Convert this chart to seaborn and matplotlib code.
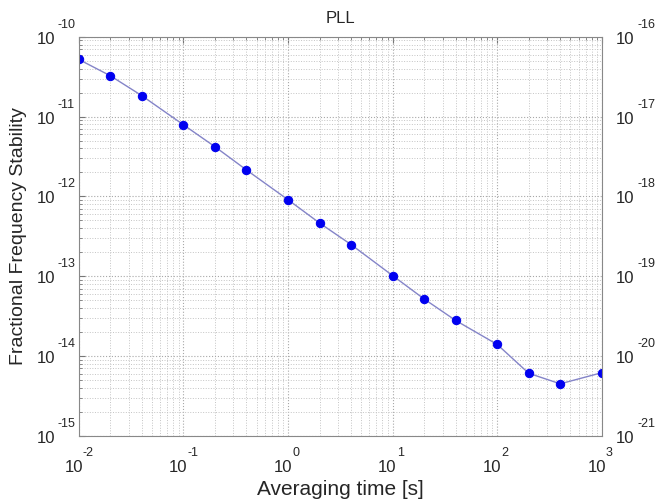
import matplotlib
matplotlib.use('Agg')
import matplotlib.pyplot as plt
import pandas as pd
import seaborn as sns
from matplotlib.ticker import LogLocator, NullFormatter
from matplotlib.transforms import blended_transform_factory, offset_copy

# averaging times and Allan deviation
tau = [0.01, 0.02, 0.04, 0.1, 0.2, 0.4, 1, 2, 4, 10, 20, 40, 100, 200, 400, 1000]
adev = [5.2e-11, 3.25e-11, 1.83e-11, 7.9e-12, 4.2e-12, 2.15e-12, 9.1e-13, 4.65e-13,
        2.5e-13, 1.02e-13, 5.2e-14, 2.8e-14, 1.4e-14, 6.1e-15, 4.5e-15, 6.2e-15]
df = pd.DataFrame({'tau': tau, 'adev': adev})

# decade exponents used for the tick labels
x_exps = [-2, -1, 0, 1, 2, 3]
left_exps = [-15, -14, -13, -12, -11, -10]
right_exps = [-21, -20, -19, -18, -17, -16]

sns.set_style('white')
plt.rcParams['font.family'] = ['Liberation Sans', 'DejaVu Sans']

fig = plt.figure(figsize=(6.57, 5.04), dpi=100)
ax = fig.add_axes([0.120, 0.135, 0.796, 0.792])

sns.lineplot(data=df, x='tau', y='adev', ax=ax, color='#8484c8', linewidth=1,
             marker='o', markersize=6, markerfacecolor='#0000f0', markeredgecolor='#0000f0')
ax.set_xscale('log')
ax.set_yscale('log')
ax.set_xlim(10.0 ** x_exps[0], 10.0 ** x_exps[-1])
ax.set_ylim(10.0 ** left_exps[0], 10.0 ** left_exps[-1])

ax.xaxis.set_major_locator(LogLocator(base=10, numticks=10))
ax.xaxis.set_minor_locator(LogLocator(base=10, subs=range(2, 10), numticks=20))
ax.yaxis.set_major_locator(LogLocator(base=10, numticks=10))
ax.yaxis.set_minor_locator(LogLocator(base=10, subs=range(2, 10), numticks=20))
for axis in [ax.xaxis, ax.yaxis]:
    axis.set_major_formatter(NullFormatter())
    axis.set_minor_formatter(NullFormatter())

ax.grid(which='major', linestyle=':', color='#a8a8a8', linewidth=0.8)
ax.grid(which='minor', linestyle=':', color='#c4c4c4', linewidth=0.7)
ax.tick_params(which='both', direction='in', top=True, right=True, color='#777777')
ax.tick_params(which='major', length=4)
ax.tick_params(which='minor', length=2)
for s in ax.spines.values():
    s.set_color('#888888')

ax.set_xlabel('Averaging time [s]', fontsize=15)
ax.xaxis.set_label_coords(0.5, -0.11)
ax.set_ylabel('Fractional Frequency Stability', fontsize=14)
ax.yaxis.set_label_coords(-0.10, 0.5)
ax.set_title('PLL', fontsize=12, pad=10)

ax2 = ax.twinx()
ax2.set_yscale('log')
ax2.set_ylim(10.0 ** right_exps[0], 10.0 ** right_exps[-1])
ax2.set_yticks([])
ax2.yaxis.set_minor_formatter(NullFormatter())
ax2.tick_params(which='both', length=0)
for s in ax2.spines.values():
    s.set_visible(False)


def pow10(a, trans, x, y, exp, base_dx, base_dy, base_ha, exp_dx, exp_dy):
    t1 = offset_copy(trans, fig=fig, x=base_dx, y=base_dy, units='dots')
    a.text(x, y, '10', transform=t1, ha=base_ha, va='baseline', fontsize=12, clip_on=False)
    t2 = offset_copy(trans, fig=fig, x=exp_dx, y=exp_dy, units='dots')
    a.text(x, y, str(exp), transform=t2, ha='left', va='baseline', fontsize=9, clip_on=False)


tx = blended_transform_factory(ax.transData, ax.transAxes)
for e in x_exps:
    pow10(ax, tx, 10.0 ** e, 0, e, 4, -36, 'right', 4, -20)

tl = blended_transform_factory(ax.transAxes, ax.transData)
for e in left_exps:
    pow10(ax, tl, 0, 10.0 ** e, e, -24, -7, 'right', -21, 9)

tr = blended_transform_factory(ax2.transAxes, ax2.transData)
for e in right_exps:
    pow10(ax2, tr, 1, 10.0 ** e, e, 14, -7, 'left', 36, 9)

fig.savefig('out.png', dpi=100)
